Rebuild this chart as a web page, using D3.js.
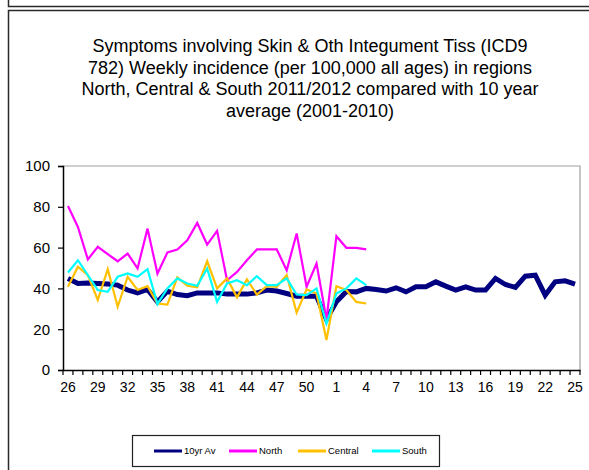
<!DOCTYPE html>
<html>
<head>
<meta charset="utf-8">
<script src="https://cdn.jsdelivr.net/npm/d3@7"></script>
<style>
  body { margin: 0; background: #fff; }
  svg { display: block; font-family: "Liberation Sans", Arial, sans-serif; }
</style>
</head>
<body>
<script>
const weeks = ["26","27","28","29","30","31","32","33","34","35","36","37","38","39","40",
  "41","42","43","44","45","46","47","48","49","50","51","52",
  "1","2","3","4","5","6","7","8","9","10","11","12","13","14","15","16","17","18","19",
  "20","21","22","23","24","25"];

const weekLabels = ["26","29","32","35","38","41","44","47","50","1","4","7","10","13","16","19","22","25"];

const tenYrAv = [44.9, 42.4, 42.7, 42.4, 42.1, 41.6, 39.2, 37.8, 39.5, 33.4,
  38.7, 37.0, 36.4, 37.8, 37.8, 37.8, 37.2, 37.2, 37.2, 37.8,
  39.2, 38.7, 37.5, 36.2, 36.2, 36.2, 24.8, 33.4, 38.5, 38.3,
  40.0, 39.5, 38.7, 40.3, 38.3, 40.8, 40.8, 43.2, 41.1, 39.2,
  40.8, 39.2, 39.2, 44.9, 41.9, 40.5, 46.0, 46.5, 36.7, 43.2,
  43.7, 42.1];

const north = [80.4, 70.1, 54.2, 60.4, 56.8, 53.3, 57.1, 49.8, 69.3, 47.3,
  57.6, 59.1, 63.6, 72.1, 61.5, 68.2, 44.0, 48.1, 53.8, 59.1,
  59.1, 59.1, 48.9, 66.9, 40.8, 52.2, 24.8, 65.6, 59.9, 59.9, 59.1];

const central = [40.8, 50.6, 46.5, 34.3, 49.4, 31.0, 45.7, 39.2, 41.1, 32.6,
  32.1, 45.4, 41.3, 40.5, 53.3, 40.0, 44.9, 35.6, 44.4, 37.0,
  41.1, 40.8, 46.5, 28.1, 39.5, 37.5, 14.7, 41.1, 39.2, 33.4, 32.6];

const south = [47.8, 53.8, 46.5, 39.2, 38.3, 45.7, 47.3, 45.7, 49.4, 32.3,
  40.0, 44.9, 42.4, 41.3, 49.8, 33.4, 42.4, 44.0, 41.6, 46.0,
  41.6, 41.6, 44.9, 37.0, 36.7, 40.0, 22.8, 37.5, 40.0, 44.9, 41.6];

const yTicks = [0, 20, 40, 60, 80, 100];

const titleLines = [
  "Symptoms involving Skin & Oth Integument Tiss (ICD9",
  "782) Weekly incidence (per 100,000 all ages) in regions",
  "North, Central & South 2011/2012 compared with 10 year",
  "average (2001-2010)"
];

const series = [
  { name: "10yr Av", values: tenYrAv, color: "#000080", width: 5 },
  { name: "North", values: north, color: "#ff00ff", width: 2.2 },
  { name: "Central", values: central, color: "#ffc000", width: 2.2 },
  { name: "South", values: south, color: "#00ffff", width: 2.2 }
];

const width = 589, height = 470;
const plot = { left: 63, right: 580, top: 166, bottom: 370 };

const svg = d3.select("body").append("svg")
  .attr("width", width)
  .attr("height", height);

svg.append("rect").attr("width", width).attr("height", height).attr("fill", "#fff");

// outer frames (edge of previous box + chart box)
const frame = svg.append("g").attr("fill", "none").attr("stroke", "#2a2a2a").attr("stroke-width", 1.5);
frame.append("path").attr("d", "M8.5,0V6.5H589");
frame.append("path").attr("d", "M589,10.5H8.5V470");

// title
svg.append("text")
  .attr("text-anchor", "middle")
  .attr("font-size", 18)
  .attr("fill", "#000")
  .selectAll("tspan")
  .data(titleLines)
  .enter().append("tspan")
  .attr("x", 310)
  .attr("y", (d, i) => 52 + i * 21.7)
  .text(d => d);

const x = d3.scaleBand().domain(weeks).range([plot.left, plot.right]);
const y = d3.scaleLinear().domain([0, 100]).range([plot.bottom, plot.top]);
const cx = d => x(d) + x.bandwidth() / 2;

// plot frame, top and right in grey
svg.append("path")
  .attr("d", `M${plot.left},${plot.top}H${plot.right}V${plot.bottom}`)
  .attr("fill", "none")
  .attr("stroke", "#a0a0a0")
  .attr("stroke-width", 1.2);

// y axis
const yAxis = svg.append("g")
  .attr("transform", `translate(${plot.left},0)`)
  .call(d3.axisLeft(y).tickValues(yTicks).tickSize(5).tickPadding(8));
yAxis.select(".domain").attr("stroke", "#000").attr("stroke-width", 1.5);
yAxis.selectAll(".tick line").attr("stroke", "#000").attr("stroke-width", 1.2);
yAxis.selectAll(".tick text").attr("font-size", 15).attr("fill", "#000")
  .attr("font-family", "Liberation Sans, Arial, sans-serif");

// x axis: labels at category centres, tick marks on category boundaries
const xAxis = svg.append("g")
  .attr("transform", `translate(0,${plot.bottom})`)
  .call(d3.axisBottom(x).tickValues(weekLabels).tickSize(0).tickPadding(12));
xAxis.select(".domain").attr("stroke", "#000").attr("stroke-width", 1.5);
xAxis.selectAll(".tick text").attr("font-size", 14).attr("fill", "#000")
  .attr("font-family", "Liberation Sans, Arial, sans-serif");

svg.append("g")
  .selectAll("line")
  .data(weeks.concat(["end"]))
  .enter().append("line")
  .attr("x1", (d, i) => i < weeks.length ? x(d) : plot.right)
  .attr("x2", (d, i) => i < weeks.length ? x(d) : plot.right)
  .attr("y1", plot.bottom)
  .attr("y2", plot.bottom + 5)
  .attr("stroke", "#000")
  .attr("stroke-width", 1.2);

// lines
const line = d3.line()
  .defined(d => d != null)
  .x((d, i) => cx(weeks[i]))
  .y(d => y(d));

svg.append("g")
  .selectAll("path")
  .data(series)
  .enter().append("path")
  .attr("d", d => line(d.values))
  .attr("fill", "none")
  .attr("stroke", d => d.color)
  .attr("stroke-width", d => d.width)
  .attr("stroke-linejoin", "miter");

// legend
const legend = svg.append("g");
legend.append("rect")
  .attr("x", 132.5).attr("y", 435.5)
  .attr("width", 307).attr("height", 31)
  .attr("fill", "#fff")
  .attr("stroke", "#222")
  .attr("stroke-width", 1.2);

const legendX = [154, 229, 298, 372];
const item = legend.selectAll(".item")
  .data(series)
  .enter().append("g")
  .attr("class", "item")
  .attr("transform", (d, i) => `translate(${legendX[i]},451)`);

item.append("line")
  .attr("x1", 0).attr("x2", 28)
  .attr("stroke", d => d.color)
  .attr("stroke-width", 3);

item.append("text")
  .attr("x", 30)
  .attr("dy", "0.35em")
  .attr("font-size", 9.5)
  .attr("fill", "#000")
  .text(d => d.name);
</script>
</body>
</html>
